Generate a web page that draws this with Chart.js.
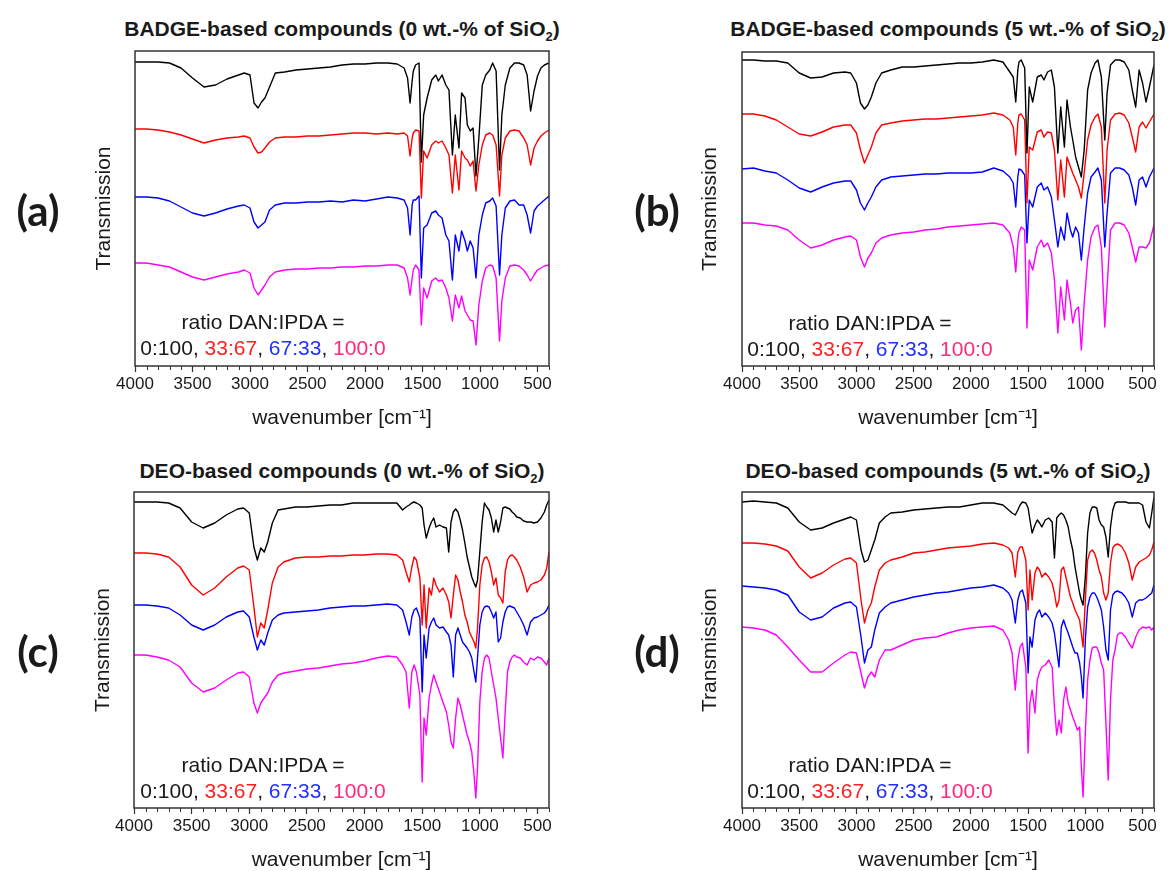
<!DOCTYPE html>
<html>
<head>
<meta charset="utf-8">
<script src="https://cdn.jsdelivr.net/npm/chart.js@4.4.1/dist/chart.umd.min.js"></script>
<style>
  html, body { margin: 0; padding: 0; background: #fff; width: 1174px; height: 871px; overflow: hidden; }
  body { position: relative; font-family: "Liberation Sans", Arial, sans-serif; color: #1a1a1a; }
  canvas { position: absolute; }
  .title { position: absolute; width: 500px; text-align: center; font-weight: bold; font-size: 21px; line-height: 24px; white-space: nowrap; }
  .title sub { font-size: 13px; vertical-align: -5px; line-height: 0; }
  .letter { position: absolute; font-family: Lato, "Open Sans", sans-serif; font-weight: bold; font-size: 42px; line-height: 1; transform: translate(-50%, -50%); }
  .ratio { position: absolute; width: 250px; text-align: center; font-size: 21px; line-height: 26px; white-space: nowrap; }
  .k { color: #1a1a1a; } .r { color: #ff2020; } .b { color: #2030ff; } .m { color: #ff2a7a; }
</style>
</head>
<body>
<div class="title" style="left:92px;top:17px">BADGE-based compounds (0 wt.-% of SiO<sub>2</sub>)</div>
<div class="title" style="left:698px;top:17px">BADGE-based compounds (5 wt.-% of SiO<sub>2</sub>)</div>
<div class="title" style="left:92px;top:459px">DEO-based compounds (0 wt.-% of SiO<sub>2</sub>)</div>
<div class="title" style="left:698px;top:459px">DEO-based compounds (5 wt.-% of SiO<sub>2</sub>)</div>

<canvas id="ca" width="590" height="440" style="left:0;top:0"></canvas>
<canvas id="cb" width="584" height="440" style="left:590px;top:0"></canvas>
<canvas id="cc" width="590" height="445" style="left:0;top:440px"></canvas>
<canvas id="cd" width="584" height="445" style="left:590px;top:440px"></canvas>

<div class="letter" style="left:38px;top:210px">(a)</div>
<div class="letter" style="left:657px;top:210px">(b)</div>
<div class="letter" style="left:38px;top:651px">(c)</div>
<div class="letter" style="left:657px;top:651px">(d)</div>

<div class="ratio" style="left:138px;top:309px">ratio DAN:IPDA =<br><span class="k">0:100</span>, <span class="r">33:67</span>, <span class="b">67:33</span>, <span class="m">100:0</span></div>
<div class="ratio" style="left:745px;top:310px">ratio DAN:IPDA =<br><span class="k">0:100</span>, <span class="r">33:67</span>, <span class="b">67:33</span>, <span class="m">100:0</span></div>
<div class="ratio" style="left:138px;top:752px">ratio DAN:IPDA =<br><span class="k">0:100</span>, <span class="r">33:67</span>, <span class="b">67:33</span>, <span class="m">100:0</span></div>
<div class="ratio" style="left:745px;top:752px">ratio DAN:IPDA =<br><span class="k">0:100</span>, <span class="r">33:67</span>, <span class="b">67:33</span>, <span class="m">100:0</span></div>

<script>
// wavenumber grids (cm-1)
const wnBadge = [4000,3900,3800,3700,3600,3500,3400,3300,3200,3100,3050,3000,
  2965,2930,2900,2870,2830,2780,
  2700,2600,2500,2400,2300,2200,2100,2000,1900,1800,
  1720,1660,1630,1608,1590,1580,1560,1530,
  1510,1490,1460,1420,1385,1362,1330,1297,1270,
  1240,1215,1183,1160,1130,1110,1085,1060,1035,1010,
  980,950,915,890,860,830,810,780,740,700,
  660,620,590,560,530,500,470,440,400];

const wnDeo = [4000,3900,3800,3700,3600,3500,3400,3300,3200,3100,3050,3000,
  2960,2930,2900,2870,2840,2800,2750,
  2700,2600,2500,2400,2300,2200,2100,2000,1900,1800,
  1720,1670,1640,1612,1590,1570,1550,1520,1500,1484,
  1465,1440,1420,1400,1380,1350,1320,1290,1270,1250,
  1230,1210,1190,1170,1150,1130,1110,1090,1070,1050,
  1035,1020,1000,980,960,940,920,900,880,860,
  840,820,800,780,760,740,720,700,680,650,
  620,590,560,530,500,470,440,420,400];

const majorTicks = [4000,3500,3000,2500,2000,1500,1000,500];

// (a) BADGE, 0 wt.-% SiO2 -- transmission, arbitrary offset units
const a0_100 = [304,304,304,303,298,288,279,281,287,291,293,291,
  263,258,264,268,279,293,
  294,296,297,298,299,301,302,302,303,303,
  302,298,288,263,285,295,301,303,
  204,251,268,286,291,285,291,281,276,
  211,251,218,273,268,241,235,238,190,228,
  281,291,296,303,295,196,251,281,298,303,
  303,301,291,255,275,290,298,301,303];
const a33_67 = [237,237,236,234,231,227,223,226,228,229,230,228,
  219,213,214,218,224,228,
  229,229,230,230,231,232,233,233,232,233,
  232,233,230,210,228,233,236,235,
  168,215,208,221,225,223,225,218,211,
  173,211,176,215,208,206,200,205,175,201,
  221,231,233,231,221,170,211,228,235,236,
  235,228,221,201,218,225,230,233,236];
const a67_33 = [169,169,168,165,159,153,150,153,157,160,161,158,
  144,138,141,144,156,161,
  163,163,164,164,165,164,166,165,167,169,
  168,166,158,131,161,166,166,170,
  88,138,141,153,155,151,148,131,125,
  86,131,115,135,125,115,125,118,88,131,
  151,163,165,168,160,91,131,158,165,166,
  161,161,151,133,155,160,163,166,170];
const a100_0 = [103,103,101,99,94,89,86,89,92,94,96,93,
  78,71,76,81,89,94,
  96,97,97,98,98,99,99,100,100,101,
  101,98,88,71,88,96,101,96,
  41,78,68,85,88,85,86,78,68,
  45,71,58,70,55,51,46,45,21,61,
  85,98,101,100,88,25,65,88,100,101,
  100,96,91,85,91,96,98,100,101];

// (b) BADGE, 5 wt.-% SiO2
const b0_100 = [306,306,305,305,303,293,288,289,293,294,293,283,
  263,257,261,269,283,293,
  296,299,299,300,301,302,303,303,304,306,
  304,294,289,264,296,304,306,298,
  213,279,264,289,291,286,294,296,279,
  213,259,219,266,239,226,209,199,189,216,
  276,293,303,306,289,226,273,301,306,306,
  304,296,276,259,296,283,264,279,301];
const b33_67 = [252,252,250,246,239,232,230,234,239,241,241,233,
  216,203,211,219,233,241,
  243,245,246,247,247,248,249,250,251,253,
  251,246,239,211,243,251,252,246,
  163,219,216,234,236,229,234,233,216,
  166,206,169,209,199,193,186,179,168,193,
  226,241,249,252,239,163,216,246,252,253,
  251,243,229,214,239,244,238,244,252];
const b67_33 = [197,198,195,193,186,178,174,179,183,185,185,176,
  163,156,163,169,179,186,
  189,190,191,192,192,193,193,193,194,198,
  195,189,183,159,189,197,196,191,
  123,166,159,179,183,176,179,169,146,
  119,139,126,153,136,129,139,133,106,139,
  173,189,194,198,186,119,153,193,198,198,
  196,191,179,161,186,189,179,189,198];
const b100_0 = [143,143,141,140,136,126,118,121,126,129,130,126,
  109,99,108,113,123,128,
  131,133,134,136,137,139,140,141,142,143,
  141,133,119,94,123,133,139,136,
  38,106,96,119,126,119,123,113,86,
  33,79,46,86,63,43,56,59,16,63,
  106,129,139,141,119,39,79,136,143,143,
  141,133,119,104,119,119,118,123,141];

// (c) DEO, 0 wt.-% SiO2
const c0_100 = [306,306,306,305,300,286,280,285,293,299,300,295,
  261,248,260,256,266,285,298,
  299,301,301,302,303,303,305,305,305,305,
  305,298,301,303,305,306,305,303,300,283,
  270,280,286,290,281,283,281,280,256,286,
  296,299,296,288,278,265,251,241,231,225,
  221,228,256,286,305,301,298,290,276,288,
  276,286,300,301,300,299,296,294,291,290,
  287,286,286,285,286,290,296,303,308];
const c33_67 = [255,255,254,251,241,223,213,220,231,240,242,238,
  201,171,185,180,198,225,241,
  246,250,251,251,252,252,253,253,254,254,
  253,248,236,226,241,251,248,230,183,223,
  180,220,213,230,223,216,220,213,206,190,
  213,233,228,216,206,193,186,176,171,166,
  160,180,223,243,250,251,246,236,223,230,
  213,210,205,236,248,252,253,251,248,241,
  231,216,223,225,226,228,233,240,256];
const c67_33 = [203,203,202,200,193,183,178,183,191,196,197,191,
  171,158,168,163,175,188,193,
  195,196,197,198,200,201,202,202,203,204,
  203,198,186,173,191,198,200,190,116,173,
  150,180,186,190,183,180,181,176,173,163,
  131,173,180,173,166,163,160,156,150,136,
  126,150,183,196,201,202,201,196,190,196,
  166,170,186,196,201,202,201,200,196,190,
  183,173,186,190,191,193,195,198,203];
const c100_0 = [153,153,151,148,141,125,116,120,128,135,136,131,
  105,95,105,110,115,126,133,
  135,137,139,140,142,144,145,147,150,152,
  151,143,136,100,136,143,136,113,26,90,
  73,110,123,133,126,116,106,96,83,66,
  60,90,110,103,93,83,73,66,56,33,
  10,40,106,136,150,153,150,136,123,110,
  90,70,50,96,136,146,151,153,151,150,
  146,143,150,148,151,150,146,143,150];

// (d) DEO, 5 wt.-% SiO2
const d0_100 = [306,307,306,305,300,286,278,280,285,289,291,288,
  258,246,248,258,268,285,291,
  295,296,298,299,300,301,301,303,305,305,
  303,298,295,293,298,303,306,305,300,288,
  275,283,288,285,281,288,290,286,250,290,
  293,295,293,288,281,268,258,241,228,215,
  208,203,231,275,295,301,301,300,288,283,
  281,271,251,281,298,305,306,306,306,306,
  305,305,305,305,303,286,280,295,311];
const d33_67 = [265,265,264,262,257,241,230,235,243,249,250,245,
  208,185,198,205,221,238,245,
  248,251,255,256,258,260,261,262,264,265,
  263,260,255,231,256,261,261,248,198,238,
  208,235,241,238,231,235,231,225,215,201,
  208,238,241,231,221,211,205,198,193,188,
  175,161,208,248,256,258,255,248,238,231,
  215,208,215,245,260,263,264,263,261,255,
  245,228,241,246,248,250,253,258,266];
const d67_33 = [222,221,220,218,213,196,188,191,200,205,206,201,
  171,145,158,161,178,195,201,
  205,208,211,213,215,216,218,220,221,223,
  220,215,208,185,208,216,218,205,135,171,
  161,188,195,198,191,195,191,185,175,158,
  141,181,188,181,175,168,161,155,155,145,
  131,110,168,201,211,215,215,211,205,198,
  181,158,148,198,213,216,217,216,215,211,
  205,191,205,208,208,210,213,215,223];
const d100_0 = [181,180,178,173,161,148,136,136,145,153,156,155,
  135,120,131,136,131,148,158,
  158,163,168,170,171,175,178,180,181,182,
  178,168,155,118,148,161,165,141,55,105,
  118,95,128,136,141,143,148,141,101,73,
  88,75,108,121,105,98,91,85,78,81,
  41,11,75,128,148,160,161,161,155,145,
  138,85,28,108,148,158,173,175,175,171,
  165,160,171,178,181,180,181,178,181];

Chart.defaults.font.family = '"Liberation Sans", Arial, sans-serif';
Chart.defaults.color = '#1a1a1a';

const lineColors = ['#000000', '#ff0000', '#0000ff', '#ff00ff'];

// box round the plot + minor ticks every 100 cm-1
const framePlugin = {
  id: 'frame',
  afterDatasetsDraw(chart) {
    const { ctx, chartArea: a } = chart;
    const x = chart.scales.x;
    ctx.save();
    ctx.strokeStyle = '#333';
    ctx.lineWidth = 1.5;
    ctx.strokeRect(a.left, a.top, a.right - a.left, a.bottom - a.top);
    ctx.lineWidth = 1;
    ctx.beginPath();
    for (let w = 400; w <= 4000; w += 100) {
      if (w % 500 === 0) continue;
      const px = Math.round(x.getPixelForValue(w)) + 0.5;
      ctx.moveTo(px, a.bottom);
      ctx.lineTo(px, a.bottom + 4);
    }
    ctx.stroke();
    ctx.restore();
  }
};

function spectrumChart(id, wn, series, yMax, pad, yWidth) {
  return new Chart(document.getElementById(id), {
    type: 'line',
    data: {
      datasets: series.map((vals, k) => ({
        data: wn.map((w, i) => ({ x: w, y: vals[i] })),
        borderColor: lineColors[k],
        borderWidth: 1.4,
        borderJoinStyle: 'round',
        pointRadius: 0,
        tension: 0
      }))
    },
    options: {
      responsive: false,
      animation: false,
      devicePixelRatio: 1,
      layout: { padding: pad },
      plugins: { legend: { display: false }, tooltip: { enabled: false } },
      scales: {
        x: {
          type: 'linear',
          reverse: true,
          min: 400,
          max: 4000,
          afterBuildTicks: (s) => { s.ticks = majorTicks.map((v) => ({ value: v })); },
          afterFit: (s) => { s.height = 69; },
          ticks: { font: { size: 17 }, padding: 2, maxRotation: 0, autoSkip: false, callback: (v) => String(v) },
          grid: { drawOnChartArea: false, drawTicks: true, tickLength: 6, tickColor: '#333', tickWidth: 1.2 },
          border: { display: false },
          title: { display: true, text: 'wavenumber [cm\u207B\u00B9]', font: { size: 21 } }
        },
        y: {
          min: 0,
          max: yMax,
          afterFit: (s) => { s.width = yWidth; },
          ticks: { display: false },
          grid: { display: false },
          border: { display: false },
          title: { display: true, text: 'Transmission', font: { size: 21 } }
        }
      }
    },
    plugins: [framePlugin]
  });
}

spectrumChart('ca', wnBadge, [a0_100, a33_67, a67_33, a100_0], 315, { left: 88, top: 51, right: 41, bottom: 5 }, 47);
spectrumChart('cb', wnBadge, [b0_100, b33_67, b67_33, b100_0], 314, { left: 104, top: 52, right: 20, bottom: 5 }, 48);
spectrumChart('cc', wnDeo, [c0_100, c33_67, c67_33, c100_0], 316, { left: 87, top: 52, right: 41, bottom: 8 }, 47);
spectrumChart('cd', wnDeo, [d0_100, d33_67, d67_33, d100_0], 316, { left: 104, top: 52, right: 20, bottom: 8 }, 48);
</script>
</body>
</html>
